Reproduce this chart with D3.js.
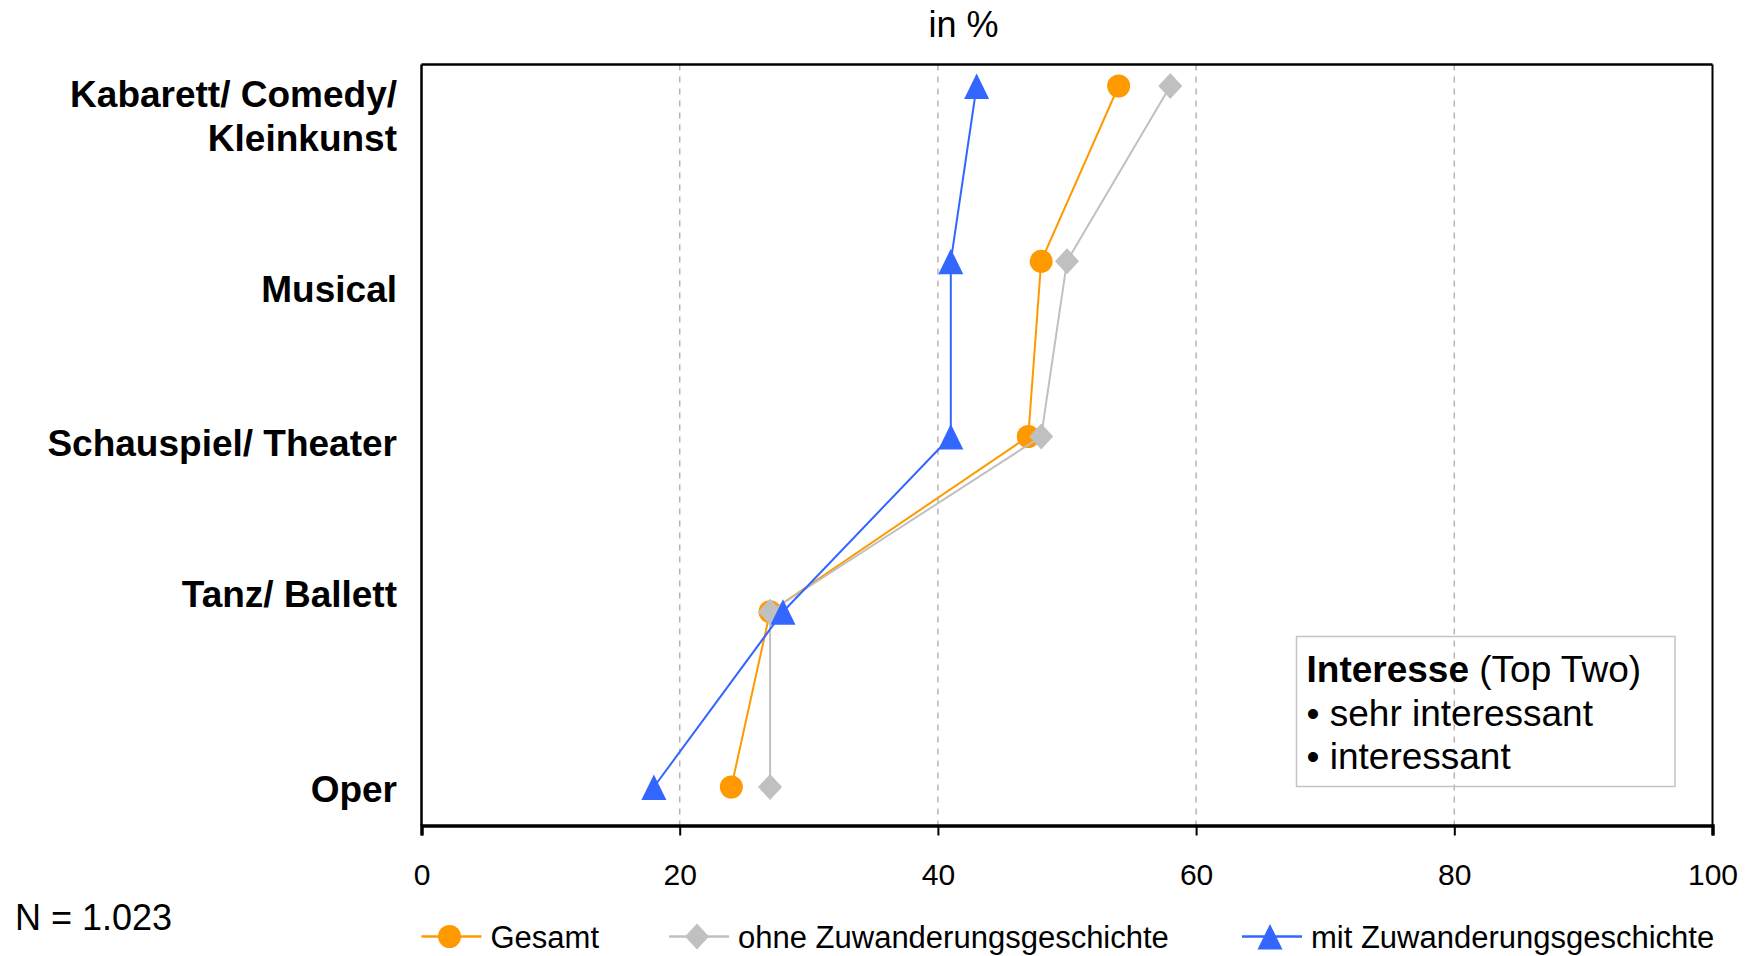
<!DOCTYPE html>
<html>
<head>
<meta charset="utf-8">
<script src="https://cdn.jsdelivr.net/npm/d3@7"></script>
<style>
  html, body { margin: 0; padding: 0; background: #ffffff; }
  svg { display: block; font-family: "Liberation Sans", Arial, sans-serif; }
</style>
</head>
<body>
<svg id="chart" width="1748" height="956"></svg>
<script>
// ---- data ----
const categories = ["Kabarett/ Comedy/ Kleinkunst", "Musical", "Schauspiel/ Theater", "Tanz/ Ballett", "Oper"];
const categoryLines = [["Kabarett/ Comedy/", "Kleinkunst"], ["Musical"], ["Schauspiel/ Theater"], ["Tanz/ Ballett"], ["Oper"]];
const seriesNames = ["Gesamt", "ohne Zuwanderungsgeschichte", "mit Zuwanderungsgeschichte"];
const gesamt = [54, 48, 47, 27, 24];
const ohne   = [58, 50, 48, 27, 27];
const mit    = [43, 41, 41, 28, 18];
const xTicks = [0, 20, 40, 60, 80, 100];
const titleText = "in %";
const noteText = "N = 1.023";
const boxTitleBold = "Interesse";
const boxTitleRest = " (Top Two)";
const boxLines = ["• sehr interessant", "• interessant"];

(function () {
// ---- layout ----
const svg = d3.select("#chart");
const pLeft = 421.5, pRight = 1712.5, pTop = 64.5, pBottom = 825.5;
const x = d3.scaleLinear().domain([0, 100]).range([pLeft, pRight]);
const y = d3.scaleLinear().domain([0, categories.length - 1]).range([86, 787]);
const labelBaselines = [[106.5, 150.5], [302], [455.5], [607], [802]];

const colors = ["#FF9900", "#C0C0C0", "#3366FF"];
const shapes = ["circle", "diamond", "triangle"];
const seriesData = [gesamt, ohne, mit];

function markerPath(shape) {
  if (shape === "circle") return d3.symbol().type(d3.symbolCircle).size(Math.PI * 11.5 * 11.5)();
  if (shape === "diamond") return "M0,-13L12,0L0,13L-12,0Z";
  return "M0,-12.5L12.5,13L-12.5,13Z";
}

// gridlines
svg.append("g").selectAll("line").data(xTicks.filter(t => t > 0 && t < 100)).join("line")
  .attr("x1", d => x(d)).attr("x2", d => x(d))
  .attr("y1", pTop).attr("y2", pBottom)
  .attr("stroke", "#b4b4b4").attr("stroke-width", 1.5).attr("stroke-dasharray", "6,6");

// frame
svg.append("line").attr("x1", pLeft).attr("x2", pRight).attr("y1", pTop).attr("y2", pTop)
  .attr("stroke", "#000").attr("stroke-width", 2.5);
svg.append("line").attr("x1", pRight).attr("x2", pRight).attr("y1", pTop).attr("y2", pBottom)
  .attr("stroke", "#000").attr("stroke-width", 2);
svg.append("line").attr("x1", pLeft).attr("x2", pLeft).attr("y1", pTop).attr("y2", pBottom)
  .attr("stroke", "#000").attr("stroke-width", 2.5);

// x axis
const xAxis = d3.axisBottom(x).tickValues(xTicks).tickSize(10).tickPadding(28).tickFormat(d3.format("d"));
const gx = svg.append("g").attr("transform", `translate(0,${pBottom})`).call(xAxis);
gx.select(".domain").attr("stroke", "#000").attr("stroke-width", 3.5);
gx.selectAll(".tick line").attr("stroke", "#000").attr("stroke-width", 2);
gx.selectAll(".tick text").attr("font-size", 30).attr("fill", "#000")
  .attr("font-family", "Liberation Sans, Arial, sans-serif");

// category labels
categoryLines.forEach((lines, i) => {
  lines.forEach((ln, j) => {
    svg.append("text").attr("x", 397).attr("y", labelBaselines[i][j])
      .attr("text-anchor", "end").attr("font-size", 37).attr("font-weight", "bold")
      .attr("fill", "#000").text(ln);
  });
});

// series
seriesData.forEach((vals, s) => {
  const pts = vals.map((v, i) => [x(v), y(i)]);
  svg.append("path").attr("d", d3.line()(pts))
    .attr("fill", "none").attr("stroke", colors[s]).attr("stroke-width", 2);
  svg.append("g").selectAll("path").data(vals).join("path")
    .attr("transform", (v, i) => `translate(${x(v)},${y(i)})`)
    .attr("d", markerPath(shapes[s]))
    .attr("fill", colors[s]);
});

// title
svg.append("text").attr("x", 963.5).attr("y", 37).attr("text-anchor", "middle")
  .attr("font-size", 36).attr("fill", "#000").text(titleText);

// N note
svg.append("text").attr("x", 15).attr("y", 930).attr("font-size", 36).attr("fill", "#000").text(noteText);

// info box
svg.append("rect").attr("x", 1296.5).attr("y", 636.5).attr("width", 378.5).attr("height", 150)
  .attr("fill", "none").attr("stroke", "#c4c4c4").attr("stroke-width", 1.5);
const t1 = svg.append("text").attr("x", 1306.5).attr("y", 682).attr("font-size", 37).attr("fill", "#000");
t1.append("tspan").attr("font-weight", "bold").text(boxTitleBold);
t1.append("tspan").text(boxTitleRest);
boxLines.forEach((ln, i) => {
  svg.append("text").attr("x", 1306.5).attr("y", 725.5 + i * 43).attr("font-size", 37).attr("fill", "#000").text(ln);
});

// legend
const legendX = [421.5, 669, 1242];
const legY = 936.5;
seriesNames.forEach((name, s) => {
  const g = svg.append("g").attr("transform", `translate(${legendX[s]},${legY})`);
  g.append("line").attr("x1", 0).attr("x2", 60).attr("y1", 0).attr("y2", 0)
    .attr("stroke", colors[s]).attr("stroke-width", 2.5);
  g.append("path").attr("transform", "translate(28,0)").attr("d", markerPath(shapes[s])).attr("fill", colors[s]);
  g.append("text").attr("x", 69).attr("y", 11.5).attr("font-size", 31).attr("fill", "#000").text(name);
});
})();
</script>
</body>
</html>
